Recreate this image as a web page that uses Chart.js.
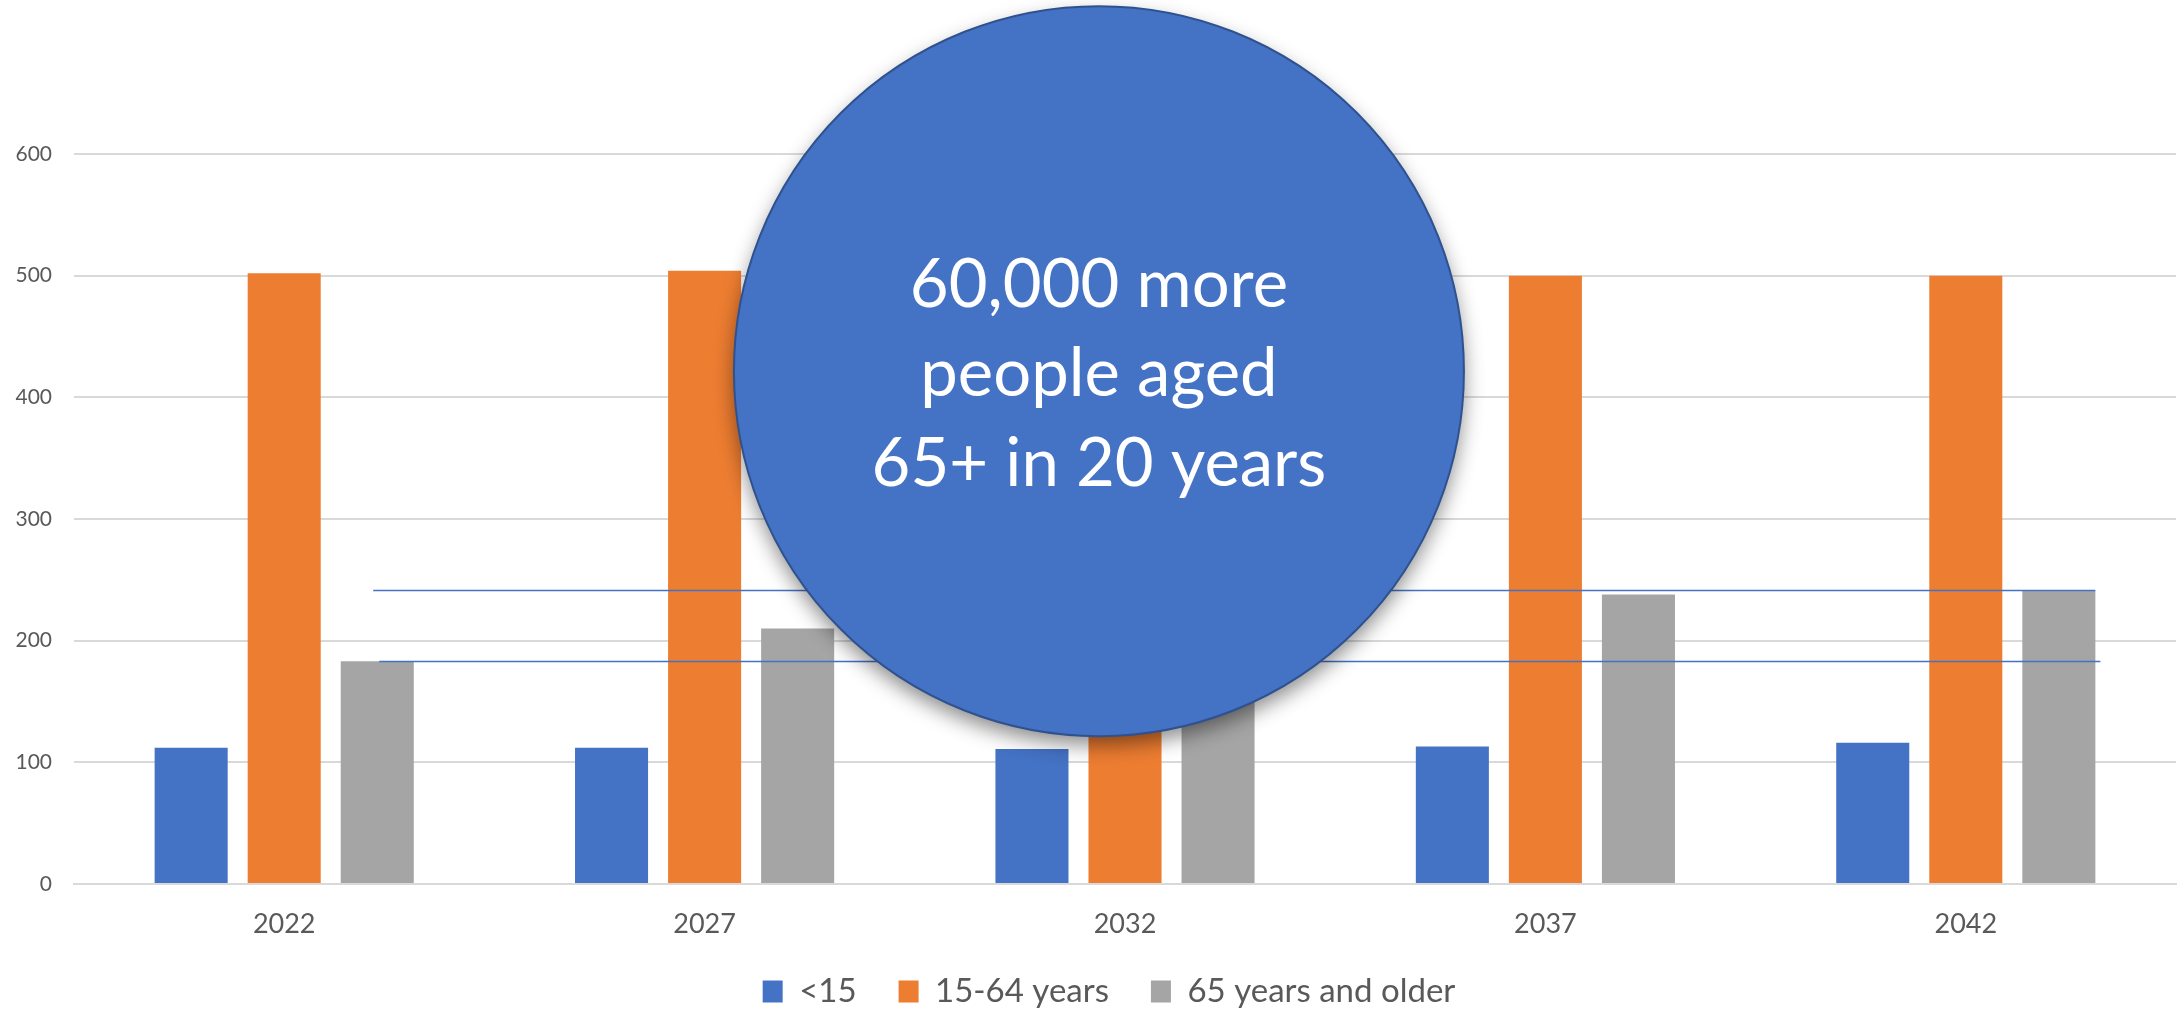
<!DOCTYPE html>
<html>
<head>
    <title>Population by age group</title>
    <script src="https://cdn.jsdelivr.net/npm/chart.js"></script>
    <style>
        html, body {
            margin: 0;
            padding: 0;
            background: #ffffff;
        }
        .chart-container {
            width: 2178px;
            height: 1010px;
            position: relative;
        }
    </style>
</head>
<body>
    <div class="chart-container">
        <canvas id="myChart"></canvas>
    </div>

    <script>
        // values (thousands)
        const years = ['2022', '2027', '2032', '2037', '2042'];
        const under15 = [112, 112, 111, 113, 116];
        const age15to64 = [502, 504, 503, 500, 500];
        const age65plus = [183, 210, 226, 238, 241];

        const seriesNames = ['<15', '15-64 years', '65 years and older'];
        const seriesColors = ['#4472C4', '#ED7D31', '#A5A5A5'];

        // the two guide lines: level of 65+ in the last and first year
        const guideValues = [241.5, 183.3];

        const calloutLines = ['60,000 more', 'people aged', '65+ in 20 years'];

        const guideLinesPlugin = {
            id: 'guideLines',
            afterDatasetsDraw(chart) {
                const ctx = chart.ctx;
                const y = chart.scales.y;
                const bars = chart.getDatasetMeta(2).data;
                const first = bars[0];
                const last = bars[bars.length - 1];
                ctx.save();
                ctx.strokeStyle = '#4472C4';
                ctx.lineWidth = 1.5;
                // upper line: starts mid first grey bar, ends at right edge of last grey bar
                const yUp = Math.round(y.getPixelForValue(guideValues[0])) + 0.5;
                ctx.beginPath();
                ctx.moveTo(first.x - 4, yUp);
                ctx.lineTo(last.x + last.width / 2, yUp);
                ctx.stroke();
                const yLow = Math.round(y.getPixelForValue(guideValues[1])) + 0.5;
                ctx.beginPath();
                ctx.moveTo(first.x + 2, yLow);
                ctx.lineTo(last.x + last.width / 2 + 5, yLow);
                ctx.stroke();
                ctx.restore();
            }
        };

        const calloutPlugin = {
            id: 'callout',
            afterDraw(chart) {
                const ctx = chart.ctx;
                const area = chart.chartArea;
                const cx = area.left + (area.right - area.left) * 0.4876;
                const cy = chart.scales.y.getPixelForValue(421.5);
                const r = (area.bottom - area.top) * 0.5;

                ctx.save();
                ctx.shadowColor = 'rgba(0, 0, 0, 0.45)';
                ctx.shadowBlur = 20;
                ctx.shadowOffsetY = 9;
                ctx.beginPath();
                ctx.arc(cx, cy, r, 0, Math.PI * 2);
                ctx.fillStyle = '#4472C4';
                ctx.fill();
                ctx.restore();

                ctx.save();
                ctx.beginPath();
                ctx.arc(cx, cy, r, 0, Math.PI * 2);
                ctx.strokeStyle = '#2F528F';
                ctx.lineWidth = 2;
                ctx.stroke();

                ctx.fillStyle = '#ffffff';
                ctx.font = '67px Lato';
                ctx.textAlign = 'center';
                ctx.textBaseline = 'alphabetic';
                const offsets = [-64, 25, 115];
                calloutLines.forEach((line, i) => {
                    ctx.fillText(line, cx, cy + offsets[i]);
                });
                ctx.restore();
            }
        };

        // legend in the original sits a little right of the page centre
        const legendShift = {
            id: 'legendShift',
            afterLayout(chart) {
                chart.legend.left += 21;
                chart.legend.right += 21;
            }
        };

        window.addEventListener('load', function() {
            const ctx = document.getElementById('myChart');
            new Chart(ctx, {
                type: 'bar',
                data: {
                    labels: years,
                    datasets: [under15, age15to64, age65plus].map((values, i) => ({
                        label: seriesNames[i],
                        data: values,
                        backgroundColor: seriesColors[i],
                        borderWidth: 0,
                        categoryPercentage: 0.664,
                        barPercentage: 0.785
                    }))
                },
                options: {
                    responsive: true,
                    maintainAspectRatio: false,
                    animation: false,
                    layout: {
                        padding: { top: 154, left: 0, right: 2, bottom: -8 }
                    },
                    scales: {
                        x: {
                            grid: { display: false },
                            border: { color: '#D9D9D9', width: 2 },
                            ticks: {
                                color: '#595959',
                                font: { family: 'Lato', size: 27 },
                                padding: 16
                            },
                            afterFit(scale) { scale.height = 49; }
                        },
                        y: {
                            min: 0,
                            max: 600,
                            ticks: {
                                stepSize: 100,
                                color: '#595959',
                                font: { family: 'Lato', size: 21 },
                                padding: 22
                            },
                            grid: {
                                color: '#D9D9D9',
                                lineWidth: 2,
                                drawTicks: false
                            },
                            border: { display: false },
                            afterFit(scale) { scale.width = 74; }
                        }
                    },
                    plugins: {
                        legend: {
                            position: 'bottom',
                            labels: {
                                color: '#595959',
                                font: { family: 'Lato', size: 33 },
                                boxWidth: 20,
                                boxHeight: 22,
                                padding: 42
                            }
                        },
                        tooltip: { enabled: false }
                    }
                },
                plugins: [guideLinesPlugin, calloutPlugin, legendShift]
            });
        });
    </script>
</body>
</html>
